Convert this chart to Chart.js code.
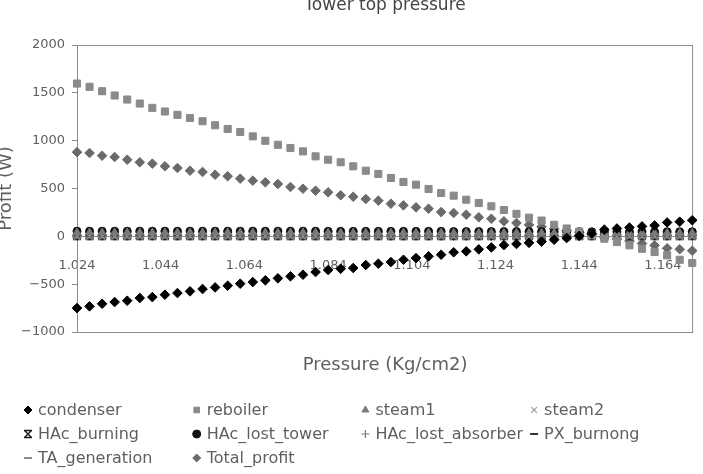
<!DOCTYPE html>
<html>
<head>
<meta charset="utf-8">
<script src="https://cdn.jsdelivr.net/npm/chart.js"></script>
<style>
  body { margin: 0; background: #fff; }
  canvas { display: block; }
</style>
</head>
<body>
<canvas id="canvas" width="703" height="474"></canvas>
<script>
// pressure values (Kg/cm2)
const pressure = [1.024,1.027,1.030,1.033,1.036,1.039,1.042,1.045,1.048,1.051,
  1.054,1.057,1.060,1.063,1.066,1.069,1.072,1.075,1.078,1.081,
  1.084,1.087,1.090,1.093,1.096,1.099,1.102,1.105,1.108,1.111,
  1.114,1.117,1.120,1.123,1.126,1.129,1.132,1.135,1.138,1.141,
  1.144,1.147,1.150,1.153,1.156,1.159,1.162,1.165,1.168,1.171]
const xTickVals = [1.024,1.044,1.064,1.084,1.104,1.124,1.144,1.164]

const condenser = [-750,-732,-705,-687,-673,-645,-635,-610,-593,-575,
  -551,-534,-516,-495,-478,-460,-439,-418,-401,-373,
  -352,-339,-331,-300,-286,-269,-245,-227,-209,-192,
  -167,-157,-136,-116,-92,-80,-68,-55,-36,-18,
  5,30,70,82,92,104,114,145,153,168]
const reboiler = [1597,1563,1517,1472,1430,1388,1343,1305,1270,1237,
  1203,1161,1122,1091,1045,999,957,923,888,836,
  801,774,732,686,652,610,568,540,495,453,
  425,383,348,314,275,235,195,165,121,82,
  50,14,-25,-60,-94,-130,-164,-199,-245,-279]
const steam1 = [40,40,40,40,40,40,40,40,40,40,
  40,40,40,40,40,40,40,40,40,40,
  38,38,38,38,38,38,38,38,38,38,
  36,36,36,36,36,36,36,36,36,36,
  35,35,35,35,35,35,35,35,35,35]
const steam2 = [0,0,0,0,0,0,0,0,0,0,
  0,0,0,0,0,0,0,0,0,0,
  0,0,0,0,0,0,0,0,0,0,
  0,0,0,0,0,0,0,0,0,0,
  0,0,0,0,0,0,0,0,0,0]
const hacBurning = [6,6,6,6,6,6,6,6,6,6,
  6,6,6,6,6,6,6,6,6,6,
  6,6,6,6,6,6,6,6,6,6,
  6,6,6,6,6,6,6,6,6,6,
  6,6,6,6,6,6,6,6,6,6]
const hacLostTower = [54,54,54,54,54,54,54,54,54,54,
  54,54,54,54,54,54,54,54,54,54,
  52,52,52,52,52,52,52,52,52,52,
  50,50,50,50,50,50,50,50,50,50,
  48,48,48,48,48,48,48,48,48,48]
const hacLostAbsorber = [0,0,0,0,0,0,0,0,0,0,
  0,0,0,0,0,0,0,0,0,0,
  0,0,0,0,0,0,0,0,0,0,
  0,0,0,0,0,0,0,0,0,0,
  0,0,0,0,0,0,0,0,0,0]
const pxBurnong = [13,13,13,13,13,13,13,13,13,13,
  13,13,13,13,13,13,13,13,13,13,
  13,13,13,13,13,13,13,13,13,13,
  13,13,13,13,13,13,13,13,13,13,
  13,13,13,13,13,13,13,13,13,13]
const taGeneration = [-18,-18,-18,-18,-18,-18,-18,-18,-18,-18,
  -18,-18,-18,-18,-18,-18,-18,-18,-18,-18,
  -18,-18,-18,-18,-18,-18,-18,-18,-18,-18,
  -18,-18,-18,-18,-18,-18,-18,-18,-18,-18,
  -18,-18,-18,-18,-18,-18,-18,-18,-18,-18]
const totalProfit = [880,871,843,829,801,774,760,732,714,686,
  673,644,628,603,582,565,547,516,498,477,
  460,429,414,390,373,341,324,303,289,254,
  244,226,199,184,157,140,120,100,80,60,
  40,20,-10,-30,-50,-75,-95,-125,-135,-150]

// x with bars marker (Excel "star")
function makeStar(color){
  const c = document.createElement('canvas')
  c.width = 10; c.height = 10
  const g = c.getContext('2d')
  g.strokeStyle = color; g.lineWidth = 1.4
  g.beginPath()
  g.moveTo(1,1.5); g.lineTo(9,1.5)
  g.moveTo(1,8.5); g.lineTo(9,8.5)
  g.moveTo(1.5,1.5); g.lineTo(8.5,8.5)
  g.moveTo(8.5,1.5); g.lineTo(1.5,8.5)
  g.stroke()
  return c
}
const starMarker = makeStar('#1a1a1a')

function series(label, values, style, color, radius, bw){
  return {
    label: label,
    data: pressure.map((p, i) => ({x: p, y: values[i]})),
    pointStyle: style,
    pointRadius: radius,
    pointBackgroundColor: color,
    pointBorderColor: color,
    pointBorderWidth: bw,
    showLine: false,
    clip: false
  }
}

const datasets = [
  series('condenser', condenser, 'rectRot', '#000000', 4.8, 1),
  series('reboiler', reboiler, 'rect', '#8a8a8a', 5, 1),
  series('steam1', steam1, 'triangle', '#7a7a7a', 4.5, 1),
  series('steam2', steam2, 'crossRot', '#9a9a9a', 4.5, 1.2),
  series('HAc_burning', hacBurning, starMarker, '#1a1a1a', 5, 1),
  series('HAc_lost_tower', hacLostTower, 'circle', '#111111', 4, 1),
  series('HAc_lost_absorber', hacLostAbsorber, 'cross', '#777777', 4.5, 1.2),
  series('PX_burnong', pxBurnong, 'line', '#333333', 4.5, 2),
  series('TA_generation', taGeneration, 'line', '#8a8a8a', 4.5, 2),
  series('Total_profit', totalProfit, 'rectRot', '#6a6a6a', 4.8, 1)
]

const textColor = '#5f5f5f'
const fontFam = '"DejaVu Sans", sans-serif'

// frame, titles and legend drawn on the canvas
const extras = {
  id: 'extras',
  beforeDatasetsDraw(chart){
    const {ctx, chartArea: a} = chart
    ctx.save()
    ctx.strokeStyle = '#8c8c8c'
    ctx.lineWidth = 1
    ctx.strokeRect(a.left + 0.5, a.top + 0.5, a.right - a.left - 1, a.bottom - a.top)
    ctx.restore()
  },
  afterDraw(chart){
    const {ctx, chartArea: a} = chart
    ctx.save()
    ctx.fillStyle = '#444'
    ctx.font = '17px ' + fontFam
    ctx.textAlign = 'center'
    ctx.textBaseline = 'alphabetic'
    ctx.fillText('Tower top pressure', (a.left + a.right) / 2, 10)

    ctx.fillStyle = textColor
    ctx.font = '18px ' + fontFam
    ctx.fillText('Pressure (Kg/cm2)', (a.left + a.right) / 2, 370)

    ctx.save()
    ctx.translate(11, (a.top + a.bottom) / 2)
    ctx.rotate(-Math.PI / 2)
    ctx.fillText('Profit (W)', 0, 0)
    ctx.restore()

    // legend: 4 columns, 3 rows
    ctx.font = '16px ' + fontFam
    ctx.textAlign = 'left'
    ctx.textBaseline = 'middle'
    chart.data.datasets.forEach((ds, i) => {
      const col = i % 4, row = Math.floor(i / 4)
      const mx = 28 + col * 168.7, my = 410 + row * 24
      ctx.fillStyle = ds.pointBackgroundColor
      ctx.strokeStyle = ds.pointBorderColor
      ctx.lineWidth = ds.pointBorderWidth
      Chart.helpers.drawPoint(ctx, {pointStyle: ds.pointStyle, radius: 4, borderWidth: ds.pointBorderWidth, rotation: 0}, mx, my)
      ctx.fillStyle = textColor
      ctx.fillText(ds.label, mx + 10, my + 1)
    })
    ctx.restore()
  }
}

new Chart(document.getElementById('canvas'), {
  type: 'scatter',
  data: { datasets: datasets },
  options: {
    responsive: false,
    animation: false,
    events: [],
    layout: { padding: { left: 0, right: 9, top: 45, bottom: 142 } },
    plugins: {
      legend: { display: false },
      tooltip: { enabled: false }
    },
    scales: {
      x: {
        type: 'linear',
        position: { y: 0 },
        min: 1.024,
        max: 1.1712,
        afterBuildTicks: s => { s.ticks = xTickVals.map(v => ({value: v})) },
        ticks: {
          color: textColor,
          font: { family: fontFam, size: 13 },
          padding: 21,
          maxRotation: 0,
          autoSkip: false,
          callback: v => v.toFixed(3)
        },
        grid: { display: true, drawOnChartArea: false, drawTicks: false },
        border: { display: true, color: '#8c8c8c' }
      },
      y: {
        min: -1000,
        max: 2000,
        afterFit: s => { s.width = 77 },
        ticks: {
          stepSize: 500,
          color: textColor,
          font: { family: fontFam, size: 13 },
          padding: 7,
          callback: v => String(v).replace('-', '\u2212')
        },
        grid: { display: true, drawOnChartArea: false, drawTicks: true, tickLength: 5, color: '#8c8c8c' },
        border: { display: true, color: '#8c8c8c' }
      }
    }
  },
  plugins: [extras]
})
</script>
</body>
</html>
